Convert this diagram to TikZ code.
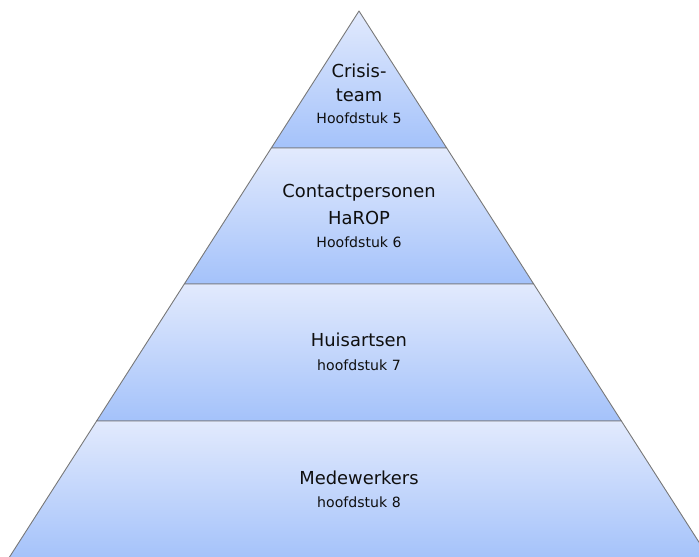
\documentclass[tikz,border=0pt]{standalone}
\usepackage{fontspec}
\setmainfont{DejaVu Sans}
\definecolor{layertop}{RGB}{226,234,253}
\definecolor{layerbot}{RGB}{164,194,250}
\definecolor{edgegray}{RGB}{120,120,120}
\definecolor{txt}{RGB}{15,15,15}
\begin{document}
\begin{tikzpicture}[x=1pt,y=-1pt,
  layer/.style={top color=layertop, bottom color=layerbot, draw=edgegray, line width=0.9pt, line join=round},
  big/.style={font=\fontsize{17.9}{20}\selectfont, text=txt, inner sep=0pt, anchor=center},
  small/.style={font=\fontsize{14.1}{16}\selectfont, text=txt, inner sep=0pt, anchor=center}]
\useasboundingbox (0,0) rectangle (699,557);
\clip (0,0) rectangle (699,557);
% layers
\path[layer] (359,11) -- (446.7,148) -- (271.3,148) -- cycle;
\path[layer] (271.3,148) -- (446.7,148) -- (533.7,284) -- (184.3,284) -- cycle;
\path[layer] (184.3,284) -- (533.7,284) -- (621.4,421) -- (96.6,421) -- cycle;
\path[layer] (96.6,421) -- (621.4,421) -- (710.4,560) -- (7.6,560) -- cycle;
% texts
\node[big] (crisis) at (359,71) {Crisis-};
\node[big] (team) at (359,95) {team};
\node[small] (h5) at (359,118) {Hoofdstuk 5};
\node[big] (contact) at (359,193) {Contactpersonen};
\node[big] (harop) at (359,218) {HaROP};
\node[small] (h6) at (359,242) {Hoofdstuk 6};
\node[big] (huis) at (359,340) {Huisartsen};
\node[small] (h7) at (359,365) {hoofdstuk 7};
\node[big] (mede) at (359,478) {Medewerkers};
\node[small] (h8) at (359,502) {hoofdstuk 8};
\end{tikzpicture}
\end{document}
